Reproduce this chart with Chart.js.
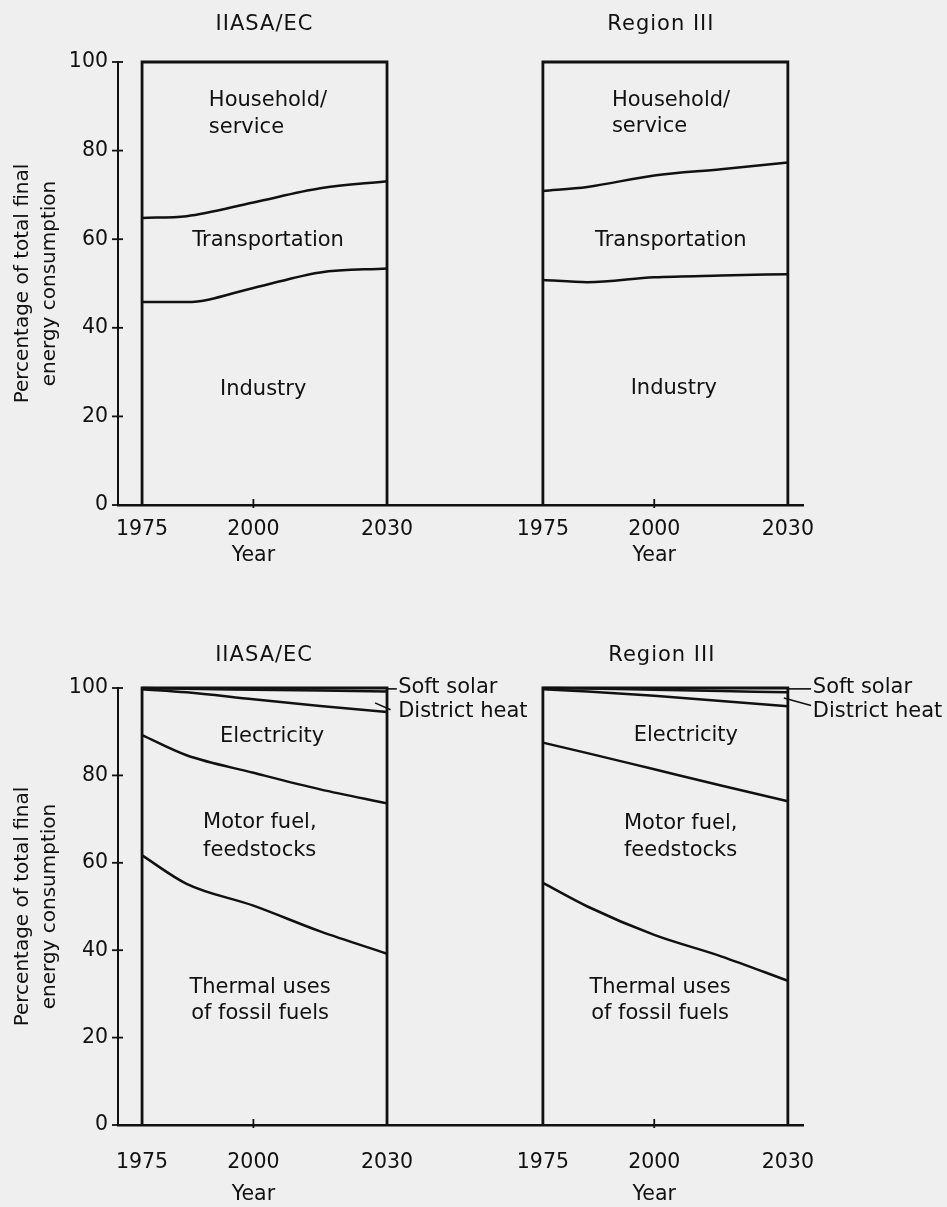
<!DOCTYPE html>
<html>
<head>
<meta charset="utf-8">
<script src="https://cdn.jsdelivr.net/npm/chart.js@4.4.1/dist/chart.umd.min.js"></script>
<style>
  html, body { margin: 0; padding: 0; background: #efefef; }
  #page { position: relative; width: 947px; height: 1207px; background: #efefef; }
  canvas { position: absolute; left: 0; }
  #upper { top: 0; }
  #lower { top: 600px; }
</style>
</head>
<body>
<div id="page">
  <canvas id="upper" width="947" height="600"></canvas>
  <canvas id="lower" width="947" height="607"></canvas>
</div>
<script>
const years = [1975, 1985, 2000, 2015, 2030];
const tickYears = [1975, 2000, 2030];
const shift = 90; // right-hand panel sits this many "years" along the shared axis
const total = 100;

// by sector, cumulative % of total final energy consumption
const iiasaIndustry = [45.8, 45.8, 49.0, 52.5, 53.4];
const iiasaTransport = [64.8, 65.2, 68.3, 71.5, 73.1];
const regionIndustry = [50.8, 50.3, 51.4, 51.8, 52.1];
const regionTransport = [70.9, 71.8, 74.4, 75.8, 77.3];

// by energy form, cumulative %
const iiasaThermal = [61.7, 55.2, 50.2, 44.3, 39.2];
const iiasaMotor = [89.2, 84.6, 80.6, 76.8, 73.6];
const iiasaElectric = [99.7, 99.0, 97.4, 95.9, 94.5];
const iiasaDistrict = [100, 99.8, 99.6, 99.4, 99.2];
const regionThermal = [55.4, 50.0, 43.5, 38.6, 33.0];
const regionMotor = [87.5, 85.1, 81.4, 77.7, 74.1];
const regionElectric = [99.7, 99.2, 98.2, 97.0, 95.8];
const regionDistrict = [100, 99.9, 99.6, 99.3, 99.0];

const FONT = '"DejaVu Sans", sans-serif';
const INK = '#111';

function curve(values, offset) {
  return {
    data: years.map((yr, i) => ({ x: yr + offset, y: values[i] })),
    borderColor: INK, borderWidth: 2.5, pointRadius: 0,
    cubicInterpolationMode: 'monotone', fill: false, clip: false
  };
}

function frame(offset) {
  const a = years[0] + offset, b = years[years.length - 1] + offset;
  return {
    data: [{ x: a, y: 0 }, { x: a, y: total }, { x: b, y: total }, { x: b, y: 0 }],
    borderColor: INK, borderWidth: 2.8, pointRadius: 0, tension: 0,
    fill: false, clip: false
  };
}

// text labels, leader lines and ticks that cross the axis lines
const figureText = {
  id: 'figureText',
  afterDatasetsDraw(chart, args, opts) {
    const { ctx, scales: { x, y } } = chart;
    ctx.save();
    ctx.strokeStyle = INK;
    ctx.fillStyle = INK;

    ctx.lineWidth = 1.8;
    y.ticks.forEach(t => {
      const py = y.getPixelForValue(t.value);
      ctx.beginPath();
      ctx.moveTo(x.left - 6, py);
      ctx.lineTo(x.left + 5, py);
      ctx.stroke();
    });
    [2000, 2000 + shift].forEach(v => {
      const px = x.getPixelForValue(v);
      ctx.beginPath();
      ctx.moveTo(px, y.bottom - 6);
      ctx.lineTo(px, y.bottom + 3);
      ctx.stroke();
    });

    ctx.lineWidth = 1.6;
    (opts.leaders || []).forEach(l => {
      ctx.beginPath();
      ctx.moveTo(x.getPixelForValue(l.from[0]), y.getPixelForValue(l.from[1]));
      ctx.lineTo(x.getPixelForValue(l.to[0]), y.getPixelForValue(l.to[1]));
      ctx.stroke();
    });

    ctx.textBaseline = 'middle';
    (opts.items || []).forEach(t => {
      ctx.font = (t.size || 21) + 'px ' + FONT;
      ctx.letterSpacing = (t.spacing || 0) + 'px';
      ctx.textAlign = t.align || 'center';
      ctx.fillText(t.text, x.getPixelForValue(t.x), y.getPixelForValue(t.y));
    });
    ctx.restore();
  }
};

function makeChart(id, datasets, cfg) {
  return new Chart(document.getElementById(id), {
    type: 'line',
    data: { datasets },
    plugins: [figureText],
    options: {
      responsive: false,
      animation: false,
      layout: { padding: { top: cfg.top, right: 144, bottom: 0, left: 0 } },
      plugins: {
        legend: { display: false },
        tooltip: { enabled: false },
        figureText: { items: cfg.items, leaders: cfg.leaders }
      },
      scales: {
        x: {
          type: 'linear', min: 1969.6, max: 2123.4,
          afterBuildTicks: s => {
            s.ticks = tickYears.concat(tickYears.map(v => v + shift)).map(v => ({ value: v }));
          },
          afterFit: s => { s.height = cfg.axisHeight; },
          grid: { display: true, drawOnChartArea: false, drawTicks: false },
          border: { display: true, color: INK, width: 2.5 },
          ticks: {
            color: INK, autoSkip: false, maxRotation: 0, padding: cfg.tickPad,
            font: { family: FONT, size: 20.5, lineHeight: cfg.lineHeight },
            callback: v => {
              const yr = v > 2060 ? v - shift : v;
              return yr === 2000 ? ['2000', 'Year'] : String(yr);
            }
          }
        },
        y: {
          min: 0, max: total,
          afterFit: s => { s.width = 118; },
          grid: { display: true, drawOnChartArea: false, drawTicks: false },
          border: { display: true, color: INK, width: 2 },
          ticks: { stepSize: 20, color: INK, padding: 10, font: { family: FONT, size: 20.5 } },
          title: {
            display: true,
            text: ['Percentage of total final', 'energy consumption'],
            color: INK,
            font: { family: FONT, size: 20, lineHeight: 1.35 },
            padding: { top: 9, bottom: 0 }
          }
        }
      }
    }
  });
}

makeChart('upper', [
  curve(iiasaIndustry, 0), curve(iiasaTransport, 0), frame(0),
  curve(regionIndustry, shift), curve(regionTransport, shift), frame(shift)
], {
  top: 62, axisHeight: 95, tickPad: 12, lineHeight: 1.27,
  items: [
    { text: 'IIASA/EC', x: 2002.5, y: 108.4, spacing: 1 },
    { text: 'Region III', x: 2001.5 + shift, y: 108.4, spacing: 1 },
    { text: 'Household/', x: 1990, y: 91.4, align: 'left' },
    { text: 'service', x: 1990, y: 85.3, align: 'left' },
    { text: 'Transportation', x: 2003.3, y: 59.6 },
    { text: 'Industry', x: 2002.2, y: 26 },
    { text: 'Household/', x: 1990.5 + shift, y: 91.4, align: 'left' },
    { text: 'service', x: 1990.5 + shift, y: 85.5, align: 'left' },
    { text: 'Transportation', x: 2003.7 + shift, y: 59.8 },
    { text: 'Industry', x: 2004.4 + shift, y: 26.4 }
  ]
});

makeChart('lower', [
  curve(iiasaThermal, 0), curve(iiasaMotor, 0), curve(iiasaElectric, 0), curve(iiasaDistrict, 0), frame(0),
  curve(regionThermal, shift), curve(regionMotor, shift), curve(regionElectric, shift), curve(regionDistrict, shift), frame(shift)
], {
  top: 88, axisHeight: 82, tickPad: 22, lineHeight: 1.56,
  items: [
    { text: 'IIASA/EC', x: 2002.4, y: 107.5, spacing: 1 },
    { text: 'Region III', x: 2001.7 + shift, y: 107.5, spacing: 1 },
    { text: 'Electricity', x: 2004.2, y: 88.8 },
    { text: 'Motor fuel,', x: 1988.7, y: 69.1, align: 'left' },
    { text: 'feedstocks', x: 1988.7, y: 62.9, align: 'left' },
    { text: 'Thermal uses', x: 2001.5, y: 31.4 },
    { text: 'of fossil fuels', x: 2001.5, y: 25.4 },
    { text: 'Soft solar', x: 2032.5, y: 100, align: 'left' },
    { text: 'District heat', x: 2032.5, y: 94.5, align: 'left' },
    { text: 'Electricity', x: 2007.1 + shift, y: 89.2 },
    { text: 'Motor fuel,', x: 1993.2 + shift, y: 68.9, align: 'left' },
    { text: 'feedstocks', x: 1993.2 + shift, y: 62.9, align: 'left' },
    { text: 'Thermal uses', x: 2001.3 + shift, y: 31.4 },
    { text: 'of fossil fuels', x: 2001.3 + shift, y: 25.4 },
    { text: 'Soft solar', x: 2035.6 + shift, y: 100, align: 'left' },
    { text: 'District heat', x: 2035.6 + shift, y: 94.5, align: 'left' }
  ],
  leaders: [
    { from: [2030, 99.8], to: [2032.2, 99.8] },
    { from: [2027.3, 96.6], to: [2030.8, 95.0] },
    { from: [2030 + shift, 99.8], to: [2035.2 + shift, 99.8] },
    { from: [2029.1 + shift, 97.7], to: [2035.2 + shift, 96.0] }
  ]
});
</script>
</body>
</html>
